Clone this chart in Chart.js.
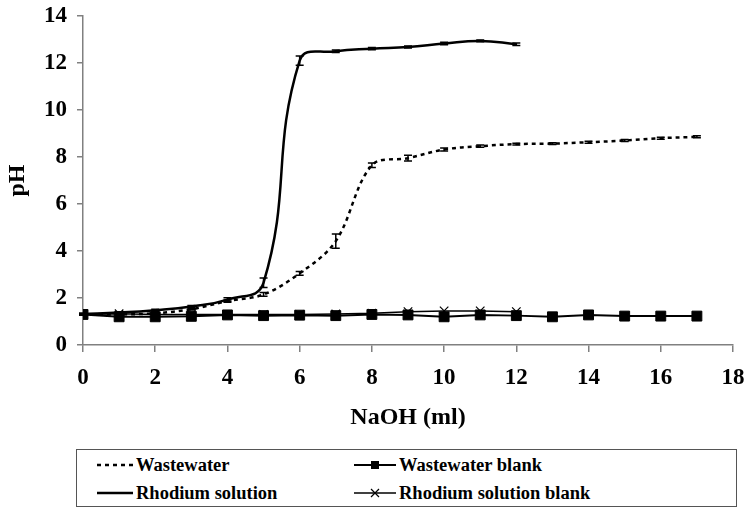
<!DOCTYPE html>
<html>
<head>
<meta charset="utf-8">
<script src="https://cdn.jsdelivr.net/npm/chart.js@4.4.1/dist/chart.umd.min.js"></script>
<style>
  body { margin: 0; background: #fff; }
  #wrap { position: relative; width: 745px; height: 507px; }
  #box { position: absolute; left: 0; top: 0; width: 745px; height: 449px; }
  #legend {
    position: absolute; left: 76px; top: 449px; width: 661px; height: 58px;
    box-sizing: border-box; border: 1.5px solid #555;
    font: bold 18.5px 'Liberation Serif', 'Times New Roman', serif; color: #000;
  }
  .item { position: absolute; display: flex; align-items: center; height: 22px; white-space: nowrap; }
  .item svg { margin-right: 3px; }
</style>
</head>
<body>
<div id="wrap">
  <div id="box"><canvas id="ph"></canvas></div>
  <div id="legend"></div>
</div>
<script>
// NaOH added (ml)
const naohLong = [0, 1, 2, 3, 4, 5, 6, 7, 8, 9, 10, 11, 12, 13, 14, 15, 16, 17];
const naohShort = [0, 1, 2, 3, 4, 5, 6, 7, 8, 9, 10, 11, 12];

// pH readings
const wastewater = [1.30, 1.30, 1.35, 1.52, 1.87, 2.15, 3.05, 4.42, 7.65, 7.95, 8.32, 8.46, 8.55, 8.57, 8.63, 8.70, 8.80, 8.86];
const wastewaterErr = [0.03, 0.03, 0.03, 0.03, 0.05, 0.08, 0.08, 0.3, 0.1, 0.12, 0.06, 0.05, 0.04, 0.04, 0.04, 0.04, 0.04, 0.04];
const wastewaterBlank = [1.30, 1.20, 1.20, 1.22, 1.28, 1.25, 1.27, 1.25, 1.30, 1.28, 1.20, 1.28, 1.25, 1.20, 1.28, 1.23, 1.23, 1.23];
const rhodium = [1.32, 1.38, 1.48, 1.64, 1.93, 2.65, 12.1, 12.5, 12.61, 12.68, 12.83, 12.94, 12.8];
const rhodiumErr = [0.04, 0.04, 0.04, 0.04, 0.08, 0.2, 0.2, 0.05, 0.05, 0.04, 0.05, 0.04, 0.05];
const rhodiumBlank = [1.30, 1.33, 1.30, 1.30, 1.30, 1.30, 1.30, 1.32, 1.35, 1.42, 1.45, 1.45, 1.42];

const xTicks = [0, 2, 4, 6, 8, 10, 12, 14, 16, 18];
const yTicks = [0, 2, 4, 6, 8, 10, 12, 14];

const pts = (xs, ys) => ys.map((y, i) => ({ x: xs[i], y: y }));
const serif = "'Liberation Serif', 'Times New Roman', serif";
const axisGrey = '#808080';

// small I-shaped error bars drawn on top of the lines
const errorBars = {
  id: 'errorBars',
  afterDatasetsDraw(chart) {
    const ctx = chart.ctx;
    const yScale = chart.scales.y;
    chart.data.datasets.forEach((ds, di) => {
      if (!ds.errors) return;
      const meta = chart.getDatasetMeta(di);
      ctx.save();
      ctx.strokeStyle = '#000';
      ctx.lineWidth = 1.5;
      meta.data.forEach((p, i) => {
        const v = ds.data[i].y, e = ds.errors[i];
        const top = yScale.getPixelForValue(v + e);
        const bot = yScale.getPixelForValue(v - e);
        ctx.beginPath();
        ctx.moveTo(p.x, top); ctx.lineTo(p.x, bot);
        ctx.moveTo(p.x - 4, top); ctx.lineTo(p.x + 4, top);
        ctx.moveTo(p.x - 4, bot); ctx.lineTo(p.x + 4, bot);
        ctx.stroke();
      });
      ctx.restore();
    });
  }
};

const datasets = [
  {
    label: 'Wastewater',
    data: pts(naohLong, wastewater),
    errors: wastewaterErr,
    borderColor: '#000',
    borderWidth: 2.5,
    borderDash: [4, 4],
    pointRadius: 0,
    tension: 0.35
  },
  {
    label: 'Wastewater blank',
    data: pts(naohLong, wastewaterBlank),
    borderColor: '#000',
    backgroundColor: '#000',
    borderWidth: 2,
    pointStyle: 'rect',
    pointRadius: 7,
    pointBorderWidth: 1,
    tension: 0
  },
  {
    label: 'Rhodium solution',
    data: pts(naohShort, rhodium),
    errors: rhodiumErr,
    borderColor: '#000',
    borderWidth: 2.5,
    pointRadius: 0,
    tension: 0.45
  },
  {
    label: 'Rhodium solution blank',
    data: pts(naohShort, rhodiumBlank),
    borderColor: '#000',
    backgroundColor: '#000',
    borderWidth: 1.5,
    pointStyle: 'crossRot',
    pointRadius: 6,
    pointBorderWidth: 1.2,
    tension: 0
  }
];

new Chart(document.getElementById('ph'), {
  type: 'line',
  data: { datasets: datasets },
  options: {
    responsive: true,
    maintainAspectRatio: false,
    animation: false,
    layout: { padding: { top: 16, right: 12, bottom: 0, left: 0 } },
    plugins: { legend: { display: false }, tooltip: { enabled: false } },
    scales: {
      x: {
        type: 'linear',
        min: 0, max: 18,
        afterBuildTicks: s => { s.ticks = xTicks.map(v => ({ value: v })); },
        afterFit: s => { s.height = 104; s.paddingLeft = 0; s.paddingRight = 0; },
        ticks: { color: '#000', padding: 12, font: { family: serif, size: 23, weight: 'bold' } },
        grid: { drawOnChartArea: false, color: axisGrey, lineWidth: 1.5, tickLength: 7 },
        border: { color: axisGrey, width: 1.5 },
        title: { display: true, text: 'NaOH (ml)', color: '#000', padding: { bottom: 17 }, font: { family: serif, size: 24, weight: 'bold' } }
      },
      y: {
        min: 0, max: 14,
        afterBuildTicks: s => { s.ticks = yTicks.map(v => ({ value: v })); },
        afterFit: s => { s.width = 83; s.paddingTop = 0; s.paddingBottom = 0; },
        ticks: { color: '#000', padding: 10, font: { family: serif, size: 23, weight: 'bold' } },
        grid: { drawOnChartArea: false, color: axisGrey, lineWidth: 1.5, tickLength: 6 },
        border: { color: axisGrey, width: 1.5 },
        title: { display: true, text: 'pH', color: '#000', padding: { top: 3 }, font: { family: serif, size: 24, weight: 'bold' } }
      }
    }
  },
  plugins: [errorBars]
});

// legend box under the chart, two columns
function sample(ds, w) {
  let s = '<svg width="' + w + '" height="14">';
  const dash = ds.borderDash ? ' stroke-dasharray="' + ds.borderDash.join(',') + '"' : '';
  s += '<line x1="0" y1="7" x2="' + w + '" y2="7" stroke="#000" stroke-width="' + Math.min(ds.borderWidth, 2.5) + '"' + dash + '/>';
  const c = w / 2;
  if (ds.pointStyle === 'rect') s += '<rect x="' + (c - 4) + '" y="3" width="8" height="8" fill="#000"/>';
  if (ds.pointStyle === 'crossRot') s += '<path d="M' + (c - 4) + ' 3 L' + (c + 4) + ' 11 M' + (c + 4) + ' 3 L' + (c - 4) + ' 11" stroke="#000" stroke-width="1.2"/>';
  return s + '</svg>';
}
const slots = [
  { left: 20, top: 4, w: 36 }, { left: 277, top: 4, w: 42 },
  { left: 20, top: 32, w: 36 }, { left: 277, top: 32, w: 42 }
];
const legend = document.getElementById('legend');
datasets.forEach((ds, k) => {
  const slot = slots[k];
  const el = document.createElement('div');
  el.className = 'item';
  el.style.left = slot.left + 'px';
  el.style.top = slot.top + 'px';
  el.innerHTML = sample(ds, slot.w) + '<span>' + ds.label + '</span>';
  legend.appendChild(el);
});
</script>
</body>
</html>
